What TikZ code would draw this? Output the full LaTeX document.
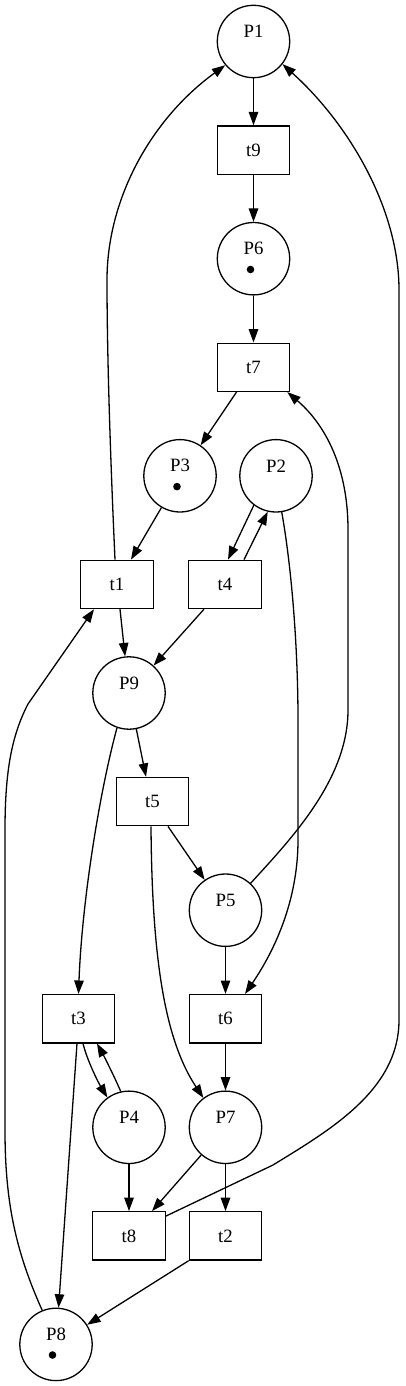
\documentclass[tikz,border=0pt]{standalone}
\usepackage{fontspec}
\setmainfont{Liberation Serif}
\usetikzlibrary{arrows.meta}
\begin{document}
\begin{tikzpicture}[x=1pt,y=-1pt,
  place/.style={draw,circle,minimum size=72.4pt,inner sep=0pt,line width=1.3pt},
  trans/.style={draw,rectangle,minimum width=72.4pt,minimum height=48.3pt,inner sep=0pt,line width=1.3pt,font=\fontsize{18.8}{22}\selectfont},
  lbl/.style={font=\fontsize{18.8}{22}\selectfont,inner sep=0pt},
  tok/.style={circle,fill=black,inner sep=0pt,minimum size=7.6pt},
  arr/.style={line width=1.3pt,-{Triangle[length=13.4pt,width=9.5pt]}}
]
\fill[white] (0,0) rectangle (405,1386);
\useasboundingbox (0,0) rectangle (405,1386);

% places
\node[place] (P1) at (253.5,41.5) {};
\node[lbl] (P1l) at (253.5,31.5) {P1};
\node[place] (P6) at (253.5,258.7) {};
\node[lbl] (P6l) at (253.5,248.7) {P6};
\node[tok] (P6t) at (250.5,269.5) {};
\node[place] (P3) at (180,475.8) {};
\node[lbl] (P3l) at (180,465.8) {P3};
\node[tok] (P3t) at (177,486.6) {};
\node[place] (P2) at (276,475.8) {};
\node[lbl] (P2l) at (276,465.8) {P2};
\node[place] (P9) at (129,693) {};
\node[lbl] (P9l) at (129,683) {P9};
\node[place] (P5) at (225.5,910.2) {};
\node[lbl] (P5l) at (225.5,900.2) {P5};
\node[place] (P4) at (129,1127.3) {};
\node[lbl] (P4l) at (129,1117.3) {P4};
\node[place] (P7) at (225.5,1127.3) {};
\node[lbl] (P7l) at (225.5,1117.3) {P7};
\node[place] (P8) at (56,1344.4) {};
\node[lbl] (P8l) at (56,1334.4) {P8};
\node[tok] (P8t) at (52.5,1355) {};

% transitions
\node[trans] (t9) at (253.5,150.1) {t9};
\node[trans] (t7) at (253.5,367.3) {t7};
\node[trans] (t1) at (117,584.4) {t1};
\node[trans] (t4) at (225,584.4) {t4};
\node[trans] (t5) at (152.5,801.6) {t5};
\node[trans] (t3) at (78.5,1018.7) {t3};
\node[trans] (t6) at (225.5,1018.7) {t6};
\node[trans] (t8) at (129,1235.9) {t8};
\node[trans] (t2) at (225.5,1235.9) {t2};

% arcs
\draw[arr] (P1) -- (t9);
\draw[arr] (t9) -- (P6);
\draw[arr] (P6) -- (t7);
\draw[arr] ([xshift=-17pt]t7.south) -- (P3);
\draw[arr] (P3) -- ([xshift=14pt]t1.north);
\draw[arr] ([xshift=-2pt]t1.north) .. controls (110,450) and (107,350) .. (107,280)
   .. controls (107,200) and (150,120) .. (P1.220);
\draw[arr] (P2.233) -- ([xshift=3pt]t4.north);
\draw[arr] ([xshift=19pt]t4.north) -- (P2.257);
\draw[arr] ([xshift=-21pt]t4.south) -- (P9);
\draw[arr] ([xshift=3pt]t1.south) -- (P9);
\draw[arr] (P8.112) .. controls (15,1250) and (5,1200) .. (5,1130) -- (5,830)
   .. controls (5,770) and (12,735) .. (28,704) -- ([xshift=-23pt]t1.south);
\draw[arr] (P2.-81) .. controls (292,570) and (298,650) .. (298,720) -- (298,840)
   .. controls (298,900) and (275,950) .. ([xshift=19.5pt]t6.north);
\draw[arr] (P5.47) .. controls (290,840) and (348,780) .. (348,710) -- (348,530)
   .. controls (348,460) and (320,420) .. ([xshift=-3pt]t7.south east);
\draw[arr] (P9) -- ([xshift=-6.5pt]t5.north);
\draw[arr] (P9.-109) .. controls (100,790) and (82,900) .. (t3.north);
\draw[arr] ([xshift=15.5pt]t5.south) -- (P5);
\draw[arr] ([xshift=-1.5pt]t5.south) .. controls (152,960) and (165,1040) .. (P7.127);
\draw[arr] (P5) -- (t6);
\draw[arr] (t6) -- (P7);
\draw[arr] ([xshift=4.5pt]t3.south) .. controls (87,1060) and (98,1082) .. (P4.126);
\draw[arr] (P4.103) .. controls (115,1078) and (105,1058) .. ([xshift=18.5pt]t3.south);
\draw[arr] ([xshift=-1.5pt]t3.south) -- (P8);
\draw[arr] (P4) -- (t8);
\draw[arr] (P7) -- ([xshift=23pt]t8.north);
\draw[arr] (P7) -- (t2);
\draw[arr] (t2.south west) -- (P8);
\draw[arr] ([yshift=-5pt]t8.north east) -- (273,1165)
   .. controls (330,1130) and (399,1090) .. (399,1020) -- (399,290)
   .. controls (399,210) and (350,125) .. (P1.-38);
\end{tikzpicture}
\end{document}
